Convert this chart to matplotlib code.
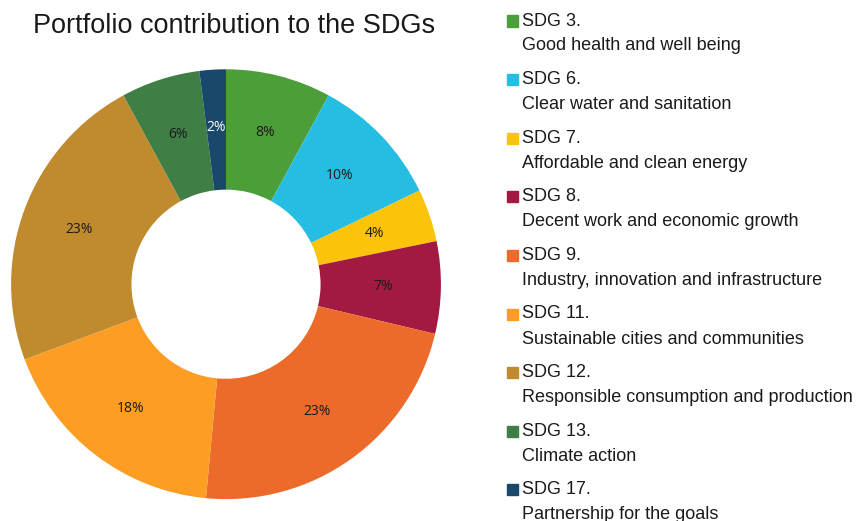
import numpy as np
import matplotlib.pyplot as plt
from matplotlib.patches import Rectangle
from matplotlib.colors import to_rgb

plt.rcParams["font.family"] = ["Liberation Sans", "DejaVu Sans"]

# Datos del gráfico
codigos = ["SDG 3.", "SDG 6.", "SDG 7.", "SDG 8.", "SDG 9.",
           "SDG 11.", "SDG 12.", "SDG 13.", "SDG 17."]
nombres = ["Good health and well being",
           "Clear water and sanitation",
           "Affordable and clean energy",
           "Decent work and economic growth",
           "Industry, innovation and infrastructure",
           "Sustainable cities and communities",
           "Responsible consumption and production",
           "Climate action",
           "Partnership for the goals"]
porcentajes = [8, 10, 4, 7, 23, 18, 23, 6, 2]
colores = ["#4C9F38", "#26BDE2", "#FCC30B", "#A21942", "#EC6A2A",
           "#FD9D24", "#BF8B2E", "#3F7E44", "#19486A"]

fig = plt.figure(figsize=(8.59, 5.21), dpi=100)
ax = fig.add_axes([0.0128, 0.042, 0.5006, 0.825])

wedges, _ = ax.pie(porcentajes, colors=colores, startangle=90,
                   counterclock=False, radius=1.0,
                   wedgeprops=dict(width=0.56, linewidth=0))
ax.set_aspect("equal")
ax.set_xlim(-1, 1)
ax.set_ylim(-1, 1)

# Etiquetas de porcentaje en el centro del anillo
for w, p, col in zip(wedges, porcentajes, colores):
    ang = np.deg2rad((w.theta1 + w.theta2) / 2)
    r = 0.73
    # texto blanco solo sobre el azul oscuro
    color_txt = "white" if sum(to_rgb(col)) < 0.9 else "#1a1a1a"
    ax.text(r * np.cos(ang), r * np.sin(ang), f"{p}%", ha="center", va="center",
            fontsize=10, color=color_txt, family=["Open Sans", "DejaVu Sans"])

fig.text(0.038, 0.95, "Portfolio contribution to the SDGs", fontsize=19.5,
         ha="left", va="center", color="#1a1a1a")

# Leyenda dibujada a mano
y0 = 521 - 21
paso = 58.6
for i, (c, n, col) in enumerate(zip(codigos, nombres, colores)):
    y = y0 - i * paso
    fig.patches.append(Rectangle((507 / 859, (y - 5.5) / 521), 11 / 859, 11 / 521,
                                 transform=fig.transFigure, color=col))
    fig.text(522 / 859, y / 521, c, fontsize=13, ha="left", va="center", color="#1a1a1a")
    fig.text(522 / 859, (y - 25) / 521, n, fontsize=13, ha="left", va="center", color="#1a1a1a")

fig.savefig("out.png", dpi=100)
